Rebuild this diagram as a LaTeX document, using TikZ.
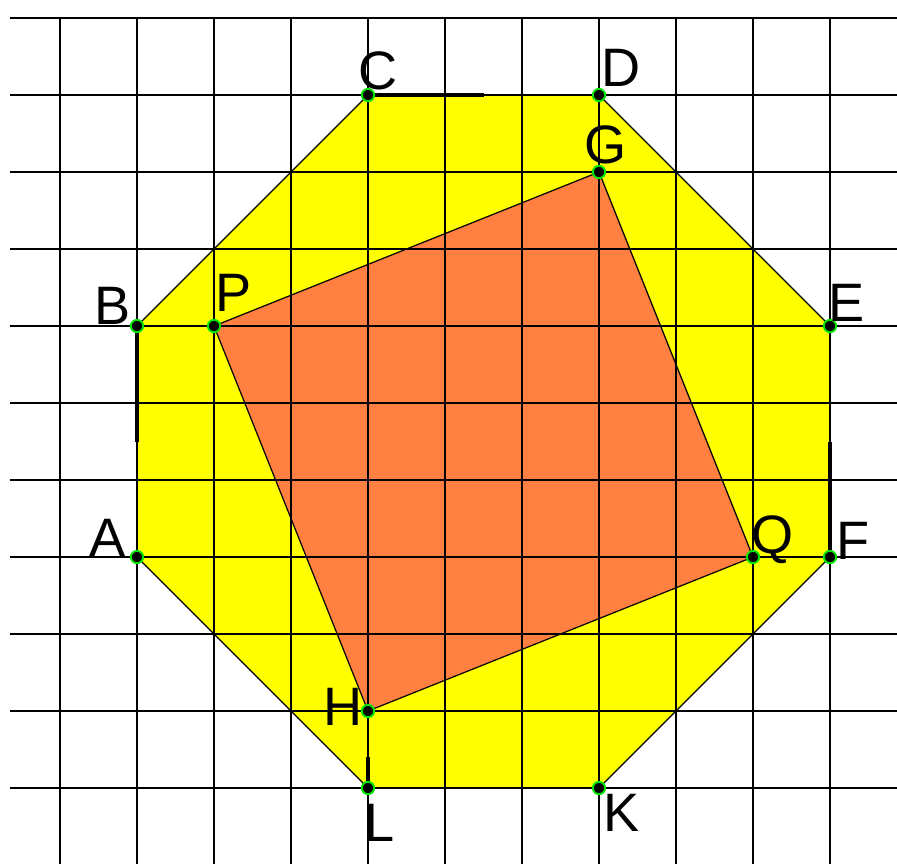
\documentclass[tikz,border=0pt]{standalone}
\usepackage{fontspec}
\setmainfont{Liberation Sans}
\usepackage{tikz}
\definecolor{octyellow}{RGB}{255,255,0}
\definecolor{sqorange}{RGB}{255,128,64}
\definecolor{ptgreen}{RGB}{0,230,0}
\tikzset{%
    vtx/.style={inner sep=0pt,minimum size=0.16cm,circle,fill=black,draw=ptgreen,line width=0.7pt},
    lbl/.style={inner sep=0pt,font=\fontsize{20}{24}\selectfont}
}
\begin{document}
\begin{tikzpicture}[
                gridline/.style={line width=0.75pt,black},
                edge/.style={line width=0.45pt,black},
                tick/.style={line width=1.6pt,black}
            ]
            \useasboundingbox (-1.779,-3.974) rectangle (9.870,7.234);
            \coordinate (a) at (0,0);
            \coordinate (b) at (0,3);
            \coordinate (c) at (3,6);
            \coordinate (d) at (6,6);
            \coordinate (e) at (9,3);
            \coordinate (f) at (9,0);
            \coordinate (k) at (6,-3);
            \coordinate (l) at (3,-3);
            \coordinate (g) at (6,5);
            \coordinate (p) at (1,3);
            \coordinate (q) at (8,0);
            \coordinate (h) at (3,-2);

            \fill[octyellow] (a) -- (b) -- (c) -- (d) -- (e) -- (f) -- (k) -- (l) -- cycle;
            \fill[sqorange] (p) -- (g) -- (q) -- (h) -- cycle;

            \foreach \x in {-1,...,9}
                \draw[gridline] (\x,-3.98) -- (\x,7.01);
            \foreach \y in {-3,...,7}
                \draw[gridline] (-1.65,\y) -- (9.87,\y);

            \draw[edge] (a) -- (b) -- (c) -- (d) -- (e) -- (f) -- (k) -- (l) -- cycle;
            \draw[edge] (p) -- (g) -- (q) -- (h) -- cycle;

            \coordinate (c1) at (4.5,6);
            \coordinate (b1) at (0,1.5);
            \coordinate (f1) at (9,1.5);
            \coordinate (l1) at (3,-2.6);
            \coordinate (l2) at (3,-2.92);
            \draw[tick] (c) -- (c1);
            \draw[tick] (b) -- (b1);
            \draw[tick] (f) -- (f1);
            \draw[tick] (l1) -- (l2);

            \foreach \v in {a,b,c,d,e,f,k,l,g,p,q,h}
                \node[vtx] (v\v) at (\v){};

            \node[lbl] (lA) at (-0.38,0.25) {A};
            \node[lbl] (lB) at (-0.32,3.26) {B};
            \node[lbl] (lC) at (3.13,6.32) {C};
            \node[lbl] (lD) at (6.29,6.35) {D};
            \node[lbl] (lE) at (9.21,3.30) {E};
            \node[lbl] (lF) at (9.30,0.21) {F};
            \node[lbl] (lG) at (6.08,5.35) {G};
            \node[lbl] (lH) at (2.68,-1.95) {H};
            \node[lbl] (lK) at (6.29,-3.32) {K};
            \node[lbl] (lL) at (3.15,-3.45) {L};
            \node[lbl] (lP) at (1.25,3.43) {P};
            \node[lbl] (lQ) at (8.25,0.22) {Q};
        \end{tikzpicture}
\end{document}
